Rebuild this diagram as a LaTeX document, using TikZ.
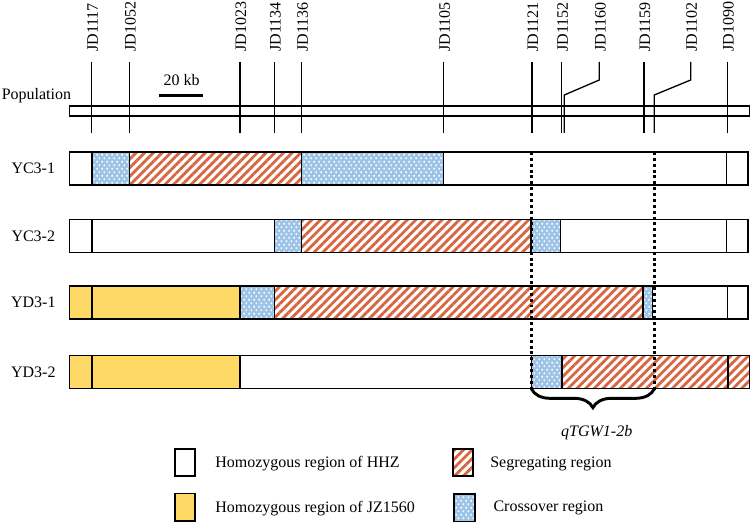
\documentclass[tikz,border=0pt]{standalone}
\usepackage{fontspec}
\setmainfont{Liberation Serif}
\usetikzlibrary{patterns.meta,decorations.pathreplacing}

\definecolor{yel}{HTML}{FFD966}
\definecolor{blu}{HTML}{9DC3E6}
\definecolor{seg}{HTML}{D8653F}

\pgfdeclarepatternformonly{wdots}{\pgfqpoint{0pt}{0pt}}{\pgfqpoint{3.8pt}{5.2pt}}{\pgfqpoint{3.8pt}{5.2pt}}{
  \pgfpathrectangle{\pgfqpoint{0.3pt}{0.3pt}}{\pgfqpoint{1.3pt}{1.3pt}}
  \pgfpathrectangle{\pgfqpoint{2.2pt}{2.9pt}}{\pgfqpoint{1.3pt}{1.3pt}}
  \pgfusepath{fill}}

\tikzset{
  bx/.style={draw=black, line width=1.1pt},
  mk/.style={draw=black, line width=1pt},
  hatch/.style={pattern={Lines[angle=45,distance=4.6pt,line width=2.1pt]}, pattern color=seg},
  dotfill/.style={pattern=wdots, pattern color=white},
  lbl/.style={font=\fontsize{12}{14}\selectfont, inner sep=0pt},
  mlbl/.style={lbl, rotate=90, anchor=west},
  qtl/.style={dash pattern=on 2.2pt off 2.2pt, line width=2.3pt},
}

\newcommand\segWhite[3]{\filldraw[bx,fill=white] (#1,#3-16.4) rectangle (#2,#3+16.4);}
\newcommand\segYel[3]{\filldraw[bx,fill=yel] (#1,#3-16.4) rectangle (#2,#3+16.4);}
\newcommand\segBlue[3]{\fill[blu] (#1,#3-16.4) rectangle (#2,#3+16.4);
  \fill[dotfill] (#1,#3-16.4) rectangle (#2,#3+16.4);
  \draw[bx] (#1,#3-16.4) rectangle (#2,#3+16.4);}
\newcommand\segHatch[3]{\fill[white] (#1,#3-16.4) rectangle (#2,#3+16.4);
  \fill[hatch] (#1,#3-16.4) rectangle (#2,#3+16.4);
  \draw[bx] (#1,#3-16.4) rectangle (#2,#3+16.4);}

\begin{document}
\begin{tikzpicture}[x=0.75pt,y=-0.75pt]
\useasboundingbox (0,0) rectangle (751,523);

% population bar
\draw[bx, line width=0.9pt] (69.5,106) rectangle (749.5,116);
\node[lbl, anchor=west] (pop) at (1.5,96) {Population};

% scale bar
\node[lbl] (kb) at (181.5,80) {20 kb};
\draw[line width=2pt] (159.3,95.7) -- (203.3,95.7);

% markers
\foreach \x/\n in {91.7/JD1117,129.3/JD1052,240/JD1023,274.3/JD1134,301.7/JD1136,443.7/JD1105,532/JD1121,561.7/JD1152,644/JD1159,727.3/JD1090}{
  \draw[mk] (\x,62) -- (\x,133);
  \node[mlbl] (m\n) at (\x+1,52) {\n};
}
\draw[mk] (599.3,62) -- (599.3,80) -- (564.3,95) -- (564.3,133);
\node[mlbl] (mJD1160) at (600.3,52) {JD1160};
\draw[mk] (690.7,62) -- (690.7,80) -- (654.3,95) -- (654.3,133);
\node[mlbl] (mJD1102) at (691.7,52) {JD1102};

% row labels
\node[lbl, anchor=base] (r1) at (33.3,174) {YC3-1};
\node[lbl, anchor=base] (r2) at (33.3,241.5) {YC3-2};
\node[lbl, anchor=base] (r3) at (33.3,308) {YD3-1};
\node[lbl, anchor=base] (r4) at (33.3,377.5) {YD3-2};

% row YC3-1
\segWhite{69.5}{92}{168.5}
\segBlue{92}{129.3}{168.5}
\segHatch{129.3}{301.7}{168.5}
\segBlue{301.7}{443.5}{168.5}
\segWhite{443.5}{726.5}{168.5}
\segWhite{726.5}{748}{168.5}

% row YC3-2
\segWhite{69.5}{92}{236}
\segWhite{92}{274.3}{236}
\segBlue{274.3}{301.7}{236}
\segHatch{301.7}{531}{236}
\segBlue{531}{560.5}{236}
\segWhite{560.5}{726.5}{236}
\segWhite{726.5}{748}{236}

% row YD3-1
\segYel{69.5}{92}{302.5}
\segYel{92}{240}{302.5}
\segBlue{240}{274.3}{302.5}
\segHatch{274.3}{643}{302.5}
\segBlue{643}{652.5}{302.5}
\segWhite{652.5}{727.3}{302.5}
\segWhite{727.3}{748}{302.5}

% row YD3-2
\segYel{69.5}{92}{372}
\segYel{92}{240}{372}
\segWhite{240}{531.5}{372}
\segBlue{531.5}{562}{372}
\segHatch{562}{728}{372}
\segHatch{728}{749.5}{372}

% QTL interval
\coordinate (qa1) at (531.3,152);
\coordinate (qa2) at (531.3,392);
\coordinate (qb1) at (654.3,152);
\coordinate (qb2) at (654.3,392);
\draw[qtl] (qa1) -- (qa2);
\draw[qtl] (qb1) -- (qb2);
\draw[line width=2.2pt, decorate, decoration={brace, mirror, amplitude=14pt}] (531.5,389) -- (654.3,389);
\node[lbl, font=\fontsize{12}{14}\selectfont\itshape] (q) at (596.7,433) {qTGW1-2b};

% legend
\filldraw[bx, line width=1.3pt, fill=white] (175,449) rectangle (195,476);
\node[lbl, anchor=west] (l1) at (215,464) {Homozygous region of HHZ};
\filldraw[bx, line width=1.3pt, fill=yel] (175,493.5) rectangle (195,521);
\node[lbl, anchor=west] (l2) at (215,509) {Homozygous region of JZ1560};
\fill[white] (453.3,449) rectangle (473.3,476);
\fill[hatch] (453.3,449) rectangle (473.3,476);
\draw[bx, line width=1.3pt] (453.3,449) rectangle (473.3,476);
\node[lbl, anchor=west] (l3) at (490,464) {Segregating region};
\fill[blu] (454.3,494) rectangle (475,521.5);
\fill[dotfill] (454.3,494) rectangle (475,521.5);
\draw[bx, line width=1.3pt] (454.3,494) rectangle (475,521.5);
\node[lbl, anchor=west] (l4) at (493.3,508) {Crossover region};
\end{tikzpicture}
\end{document}
